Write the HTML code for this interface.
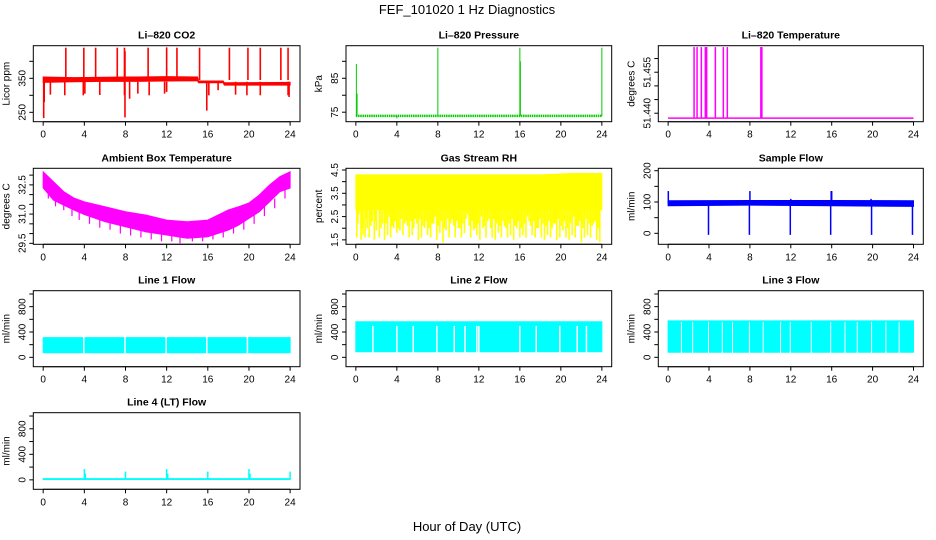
<!DOCTYPE html>
<html><head><meta charset="utf-8">
<style>
html,body{margin:0;padding:0;background:#fff;}
svg{display:block;font-family:"Liberation Sans",sans-serif;}
</style></head>
<body>
<svg id="chart" width="936" height="540" viewBox="0 0 936 540" xmlns="http://www.w3.org/2000/svg">
<rect x="0" y="0" width="936" height="540" fill="#fff"/>
<text x="467" y="14" font-size="13" text-anchor="middle">FEF_101020  1 Hz Diagnostics</text>
<text x="467" y="531" font-size="13" text-anchor="middle">Hour of Day (UTC)</text>
</svg>
<script>
const xTicks=[0,4,8,12,16,20,24];
// CO2
const co2T=[0,3,6,9,12,15,15.1,17.5,17.6,24];
const co2Lo=[338,340,341,341,342,343,337,337,330,330];
const co2Hi=[354,352,353,354,355,354,342,342,337,338];
const co2SpikeT=[2.2,3.95,5.1,7.2,7.9,7.95,10.2,12.0,13.0,15.2,18.1,19.9,21.1,23.1,23.8];
const co2SpikeV=[440,440,440,440,440,430,440,441,440,440,440,440,440,440,440];
const co2DipT=[0.05,0.1,0.7,2.1,3.9,4.05,5.5,7.9,7.95,8.4,9.2,10.3,11.8,12.0,15.9,16.1,17.0,18.7,19.8,21.1,23.8,23.9];
const co2DipV=[233,280,302,300,300,305,301,300,235,290,305,300,305,310,255,300,315,302,300,300,300,295];
// Pressure
const presT=[0,24];
const presV=[73.9,73.9];
const presSpikeT=[0.05,0.12,4.0,8.0,16.0,16.05,24.0];
const presSpikeV=[89.2,80.5,73.2,94,94,90,94];
// Li temp
const ltT=[0,24];
const ltV=[51.4382,51.4382];
const ltSpikeT=[2.54,2.83,3.25,3.64,3.7,3.77,4.62,5.4,5.79,9.07,9.12,9.17];
const ltSpikeV=[51.4642,51.4642,51.4642,51.4642,51.4642,51.4642,51.4642,51.4642,51.4642,51.4642,51.4642,51.4642];
// Ambient
const ambT=[0,1,2,3,4,6,8,10,12,14,16,18,19,20,21,22,23,24];
const ambHi=[33.17,32.66,32.15,31.82,31.63,31.38,31.12,30.95,30.69,30.61,30.69,31.21,31.38,31.57,31.98,32.49,32.92,33.17];
const ambLo=[32.34,31.72,31.46,31.21,30.98,30.61,30.35,30.09,29.93,29.76,29.84,30.18,30.44,30.78,31.12,31.63,32.15,32.34];
const ambDipT=[0.5,1.2,2.0,2.8,3.5,4.5,5.5,6.5,7.5,8.5,9.5,10.5,11.5,12.5,13.3,14.5,15.5,16.5,17.5,18.5,19.5,20.5,21.5,22.5,23.5];
const ambDipV=[31.8,31.4,31.2,30.9,30.7,30.5,30.3,30.2,30.0,29.9,29.8,29.7,29.6,29.6,29.5,29.6,29.6,29.7,29.8,30.0,30.2,30.5,30.9,31.3,31.8];
// RH
const rhT=[0,6,12,18,21,24];
const rhHi=[4.29,4.29,4.29,4.29,4.35,4.35];
const rhLo=[2.8,2.8,2.8,2.8,2.8,2.8];
const rhDipT=[0.1,0.3,0.5,0.7,0.9,1.1,1.3,1.6,1.8,2.0,2.3,2.6,2.8,3.1,3.4,3.7,4.0,4.3,4.6,4.9,5.2,5.5,5.8,6.1,6.4,6.7,7.0,7.3,7.6,7.9,8.2,8.5,8.8,9.1,9.4,9.7,10.0,10.3,10.6,10.9,11.2,11.5,11.8,12.1,12.4,12.7,13.0,13.3,13.6,13.9,14.2,14.5,14.8,15.1,15.4,15.7,16.0,16.3,16.6,16.9,17.2,17.5,17.8,18.1,18.4,18.7,19.0,19.3,19.6,19.9,20.2,20.5,20.8,21.1,21.4,21.7,22.0,22.3,22.6,22.9,23.2,23.5,23.8];
const rhDipV=[1.6,2.6,1.5,1.7,1.6,2.0,1.6,2.3,1.5,1.9,1.6,2.2,1.5,1.7,1.6,2.0,1.8,1.9,1.7,2.3,1.6,1.7,2.4,1.5,1.6,2.0,1.7,1.6,2.2,1.5,1.8,1.4,1.9,1.6,2.4,1.6,2.0,1.6,1.8,2.6,1.6,1.9,1.7,1.5,2.0,1.6,2.4,1.6,1.5,1.8,1.6,2.1,1.6,1.7,1.5,2.0,1.6,1.7,1.6,2.3,1.7,1.6,2.0,1.6,1.5,1.7,1.6,2.2,1.5,1.6,1.9,1.6,1.5,1.7,1.6,2.1,1.4,1.6,1.7,1.6,2.2,1.5,1.4];
const rhDip2T=[0.2,0.6,1.0,1.45,1.9,2.45,2.95,3.25,3.55,3.85,4.15,4.45,4.75,5.05,5.35,5.65,5.95,6.25,6.55,6.85,7.15,7.45,7.75,8.05,8.35,8.65,8.95,9.25,9.55,9.85,10.15,10.45,10.75,11.05,11.35,11.65,11.95,12.25,12.55,12.85,13.15,13.45,13.75,14.05,14.35,14.65,14.95,15.25,15.55,15.85,16.15,16.45,16.75,17.05,17.35,17.65,17.95,18.25,18.55,18.85,19.15,19.45,19.75,20.05,20.35,20.65,20.95,21.25,21.55,21.85,22.15,22.45,22.75,23.05,23.35,23.65];
const rhDip2V=[2.2,2.0,2.4,2.1,2.3,2.0,2.2,2.5,2.1,2.3,2.0,2.4,2.2,2.1,2.3,2.0,2.2,2.4,2.1,2.3,2.0,2.2,2.5,2.1,2.3,2.0,2.4,2.2,2.1,2.3,2.0,2.2,2.4,2.1,2.3,2.0,2.2,2.5,2.1,2.3,2.0,2.4,2.2,2.1,2.3,2.0,2.2,2.4,2.1,2.3,2.0,2.2,2.5,2.1,2.3,2.0,2.4,2.2,2.1,2.3,2.0,2.2,2.4,2.1,2.3,2.0,2.2,2.5,2.1,2.3,2.0,2.4,2.2,2.1,2.3,2.0];
// Sample flow
const sfT=[0,8,16,24];
const sfLo=[88,90,88,86];
const sfHi=[104,105,105,104];
const sfDipT=[3.95,7.95,11.95,15.9,19.9,23.9];
const sfDipV=[-5,-5,-5,-5,-5,-5];
const sfSpikeT=[0.02,8.0,12.0,15.95,16.0,19.85];
const sfSpikeV=[135,135,110,135,135,110];
// Line flows
const l1T=[0,24];const l1Lo=[72,72];const l1Hi=[312,312];
const l1GapT=[3.95,7.95,11.95,15.9,19.85];
const l2T=[0,24];const l2Lo=[88,88];const l2Hi=[562,562];
const l2GapT=[1.66,4.0,5.6,7.9,9.6,10.65,11.8,12.0,16.0,17.6,19.9,21.6,22.5];
const l3T=[0,24];const l3Lo=[80,80];const l3Hi=[575,575];
const l3GapT=[1.3,2.4,3.95,5.3,6.3,7.95,9.3,11.0,11.95,14.0,15.9,17.3,18.5,19.9,21.3,22.6];
const l4T=[0,24];const l4Lo=[5,5];const l4Hi=[20,20];
const l4SpikeT=[4.0,4.1,8.0,12.0,12.1,16.0,20.0,20.1,24.0];
const l4SpikeV=[170,100,130,170,100,130,170,100,130];

const svg=document.getElementById('chart');
const NS='http://www.w3.org/2000/svg';
function mk(tag,attrs,parent){const e=document.createElementNS(NS,tag);for(const k in attrs)e.setAttribute(k,attrs[k]);(parent||svg).appendChild(e);return e;}

function panel(name,title,ylab,box,ylim,yTicks,yLabels){
  const g=mk('g',{});
  
  
  const [x0,y0,x1,y1]=box;
  const sx=t=>x0+(t+0.96)/25.92*(x1-x0);
  const sy=v=>y1-(v-ylim[0])/(ylim[1]-ylim[0])*(y1-y0);
  const tt=mk('text',{x:(x0+x1)/2,y:y0-7,'font-size':10.5,'font-weight':'bold','text-anchor':'middle'},g);
  tt.textContent=title;
  
  
  const yl=mk('text',{x:0,y:0,'font-size':10,'text-anchor':'middle',transform:`translate(${x0-24},${(y0+y1)/2}) rotate(-90)`},g);
  yl.textContent=ylab;
  
  
  const plot=mk('g',{},g);
  
  
  const ax=mk('g',{stroke:'#000','stroke-width':1,fill:'none'},g);
  
  
  mk('rect',{x:x0,y:y0,width:x1-x0,height:y1-y0},ax);
  mk('line',{x1:sx(0),x2:sx(24),y1:y1,y2:y1},ax);
  xTicks.forEach(t=>{
    mk('line',{x1:sx(t),x2:sx(t),y1:y1,y2:y1+4},ax);
    const l=mk('text',{x:sx(t),y:y1+16,'font-size':10,'text-anchor':'middle',stroke:'none',fill:'#000'},g);
    l.textContent=t;
    
    
  });
  yTicks.forEach(v=>{
    mk('line',{x1:x0,x2:x0-4,y1:sy(v),y2:sy(v)},ax);
  });
  yLabels.forEach(v=>{
    const l=mk('text',{x:0,y:0,'font-size':10,'text-anchor':'middle',transform:`translate(${x0-8},${sy(v)}) rotate(-90)`},g);
    l.textContent=v;
    
    
  });
  return {sx,sy,plot};
}
function band(p,T,lo,hi,color){
  let d='M'+T.map((t,i)=>p.sx(t)+','+p.sy(hi[i])).join('L');
  d+='L'+T.slice().reverse().map((t,i)=>p.sx(t)+','+p.sy(lo[T.length-1-i])).join('L')+'Z';
  const e=mk('path',{d,fill:color,stroke:color,'stroke-width':1},p.plot);
  
  
}
function vl(p,T,from,V,color,w){
  T.forEach((t,i)=>{
    const f=typeof from==='number'?from:from[i];
    const e=mk('line',{x1:p.sx(t),x2:p.sx(t),y1:p.sy(f),y2:p.sy(V[i]),stroke:color,'stroke-width':w||1.2},p.plot);
    
    
  });
}
function gaps(p,T,lo,hi,w){
  T.forEach(t=>{
    const e=mk('line',{x1:p.sx(t),x2:p.sx(t),y1:p.sy(lo)+1,y2:p.sy(hi)-1,stroke:'#fff','stroke-width':w||1.5},p.plot);
    
    
  });
}
function line(p,T,V,color,w,dash){
  const e=mk('polyline',{points:T.map((t,i)=>p.sx(t)+','+p.sy(V[i])).join(' '),fill:'none',stroke:color,'stroke-width':w||1,'stroke-dasharray':dash||'none'},p.plot);
  
  
}
const C1=[33.3,300],C2=[346,611.7],C3=[658.3,923.3];
const R1=[45.7,121.7],R2=[168.3,244.3],R3=[290.7,366.7],R4=[412.7,489.3];
const flowLim=[-148,1052],flowTicks=[0,200,400,600,800,1000],flowLabels=[0,400,800];

let p=panel('co2','Li\u2013820 CO2','Licor ppm',[C1[0],R1[0],C1[1],R1[1]],[222.4,445.9],[250,300,350,400],[250,350]);
band(p,co2T,co2Lo,co2Hi,'#ff0000');vl(p,co2SpikeT,345,co2SpikeV,'#ff0000',1.6);vl(p,co2DipT,340,co2DipV,'#ff0000',1.6);

p=panel('pressure','Li\u2013820 Pressure','kPa',[C2[0],R1[0],C2[1],R1[1]],[72.2,94.6],[75,80,85,90],[75,85]);
line(p,presT,presV,'#00cc00',2.5,'1.5 0.7');vl(p,presSpikeT,73.9,presSpikeV,'#00cc00',1);

p=panel('li-temp','Li\u2013820 Temperature','degrees C',[C3[0],R1[0],C3[1],R1[1]],[51.4369,51.4647],[51.440,51.445,51.450,51.455,51.460],['51.440','51.455']);
line(p,ltT,ltV,'#ff00ff',1.5);vl(p,ltSpikeT,51.4382,ltSpikeV,'#ff00ff',1.5);

p=panel('ambient-temp','Ambient Box Temperature','degrees C',[C1[0],R2[0],C1[1],R2[1]],[29.45,33.35],[29.5,30,30.5,31,31.5,32,32.5,33],['29.5','31.0','32.5']);
band(p,ambT,ambLo,ambHi,'#ff00ff');
vl(p,ambDipT,ambDipV.map(v=>v+0.5),ambDipV,'#ff00ff',1.2);

p=panel('rh','Gas Stream RH','percent',[C2[0],R2[0],C2[1],R2[1]],[1.31,4.573],[1.5,2,2.5,3,3.5,4,4.5],['1.5','2.5','3.5','4.5']);
band(p,rhT,rhLo,rhHi,'#ffff00');vl(p,rhDipT,3.5,rhDipV,'#ffff00',1.6);vl(p,rhDip2T,3.0,rhDip2V,'#ffff00',1.6);

p=panel('sample-flow','Sample Flow','ml/min',[C3[0],R2[0],C3[1],R2[1]],[-35.1,207.7],[0,50,100,150,200],[0,100,200]);
band(p,sfT,sfLo,sfHi,'#0000ff');vl(p,sfDipT,90,sfDipV,'#0000ff',1.5);vl(p,sfSpikeT,95,sfSpikeV,'#0000ff',1.5);

p=panel('line1-flow','Line 1 Flow','ml/min',[C1[0],R3[0],C1[1],R3[1]],flowLim,flowTicks,flowLabels);
band(p,l1T,l1Lo,l1Hi,'#00ffff');gaps(p,l1GapT,72,312);

p=panel('line2-flow','Line 2 Flow','ml/min',[C2[0],R3[0],C2[1],R3[1]],flowLim,flowTicks,flowLabels);
band(p,l2T,l2Lo,l2Hi,'#00ffff');gaps(p,l2GapT,88,480);

p=panel('line3-flow','Line 3 Flow','ml/min',[C3[0],R3[0],C3[1],R3[1]],flowLim,flowTicks,flowLabels);
band(p,l3T,l3Lo,l3Hi,'#00ffff');gaps(p,l3GapT,80,540,1);

p=panel('line4-flow','Line 4 (LT) Flow','ml/min',[C1[0],R4[0],C1[1],R4[1]],flowLim,flowTicks,flowLabels);
band(p,l4T,l4Lo,l4Hi,'#00ffff');vl(p,l4SpikeT,10,l4SpikeV,'#00ffff',1.5);
</script>
</body></html>
